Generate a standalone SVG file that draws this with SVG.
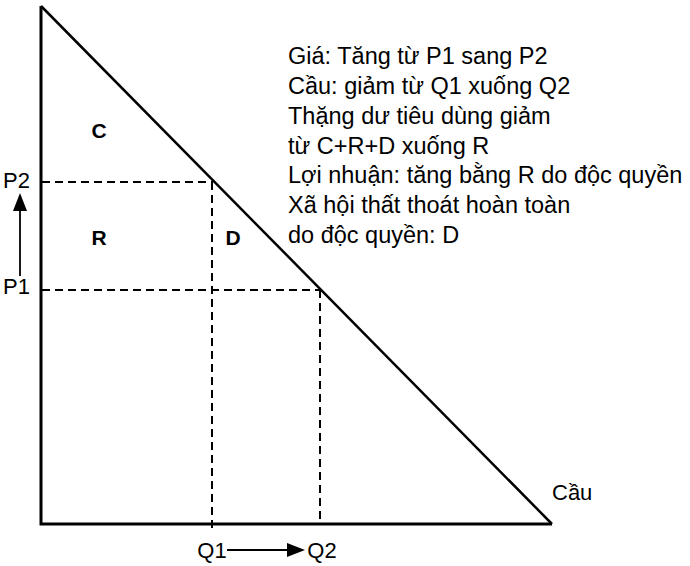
<svg xmlns="http://www.w3.org/2000/svg" width="690" height="566" viewBox="0 0 690 566">
<defs>
<style>
.t{font-family:"Liberation Sans",Arial,sans-serif;font-size:22px;fill:#000}
.n{font-family:"Liberation Sans",Arial,sans-serif;font-size:23.5px;fill:#000}
.b{font-family:"Liberation Sans",Arial,sans-serif;font-size:21px;font-weight:bold;fill:#000}
.ax{stroke:#000;stroke-width:3;fill:none}
.dl{stroke:#000;stroke-width:2.5;fill:none}
.ds{stroke:#000;stroke-width:2;stroke-dasharray:8 5;fill:none}
.ar{stroke:#000;stroke-width:1.8;fill:none}
</style>
</defs>
<rect width="690" height="566" fill="#fff"/>
<g id="connectors">
<path class="ax" d="M41,6 V524 H552"/>
<path class="dl" d="M41,6 L552,524"/>
<path class="ds" d="M42,182 H213"/>
<path class="ds" d="M212,182 V530"/>
<path class="ds" d="M42,290 H320"/>
<path class="ds" d="M320,290 V524"/>
<path d="M20,276 V210" class="ar"/>
<path d="M20,193 L13,211 L27,211 z" fill="#000"/>
<path d="M227,550 H288" class="ar"/>
<path d="M305,550 L287,543 L287,557 z" fill="#000"/>
</g>
<g id="area-C"><text class="b" x="99" y="138" text-anchor="middle">C</text></g>
<g id="area-R"><text class="b" x="99" y="245" text-anchor="middle">R</text></g>
<g id="area-D"><text class="b" x="233" y="245" text-anchor="middle">D</text></g>
<g id="label-P2"><text class="t" x="3" y="188">P2</text></g>
<g id="label-P1"><text class="t" x="3" y="294">P1</text></g>
<g id="label-Q1"><text class="t" x="212" y="558" text-anchor="middle">Q1</text></g>
<g id="label-Q2"><text class="t" x="322" y="558" text-anchor="middle">Q2</text></g>
<g id="label-cau"><text class="t" x="552" y="500">Cầu</text></g>
<g id="notes">
<text class="n" x="288" y="64">Giá: Tăng từ P1 sang P2</text>
<text class="n" x="288" y="94">Cầu: giảm từ Q1 xuống Q2</text>
<text class="n" x="288" y="124">Thặng dư tiêu dùng giảm</text>
<text class="n" x="288" y="154">từ C+R+D xuống R</text>
<text class="n" x="288" y="183">Lợi nhuận: tăng bằng R do độc quyền</text>
<text class="n" x="288" y="213">Xã hội thất thoát hoàn toàn</text>
<text class="n" x="288" y="243">do độc quyền: D</text>
</g>
</svg>
